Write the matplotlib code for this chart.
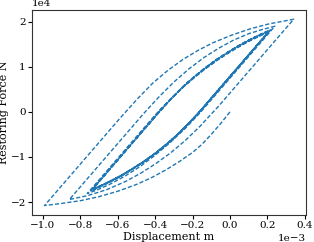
import numpy as np
import matplotlib
matplotlib.use("Agg")
import matplotlib.pyplot as plt

# displacement in 1e-3 m, force in 1e4 N (branch by branch)
# initial branch from the origin
d0_x = [0.0, -0.05, -0.10, -0.15, -0.20, -0.27, -0.34, -0.42, -0.50, -0.60, -0.70, -0.80, -0.90, -0.992]
d0_f = [0.0, -0.26, -0.50, -0.72, -0.90, -1.10, -1.28, -1.46, -1.61, -1.76, -1.88, -1.97, -2.03, -2.078]

a1_x = [-0.992, -0.892, -0.792, -0.692, -0.592, -0.492, -0.412, -0.332, -0.252, -0.172, -0.092, 0.008, 0.108, 0.208, 0.341]
a1_f = [-2.078, -1.598, -1.118, -0.638, -0.158, 0.302, 0.642, 0.922, 1.162, 1.362, 1.532, 1.702, 1.842, 1.952, 2.056]

d1_x = [0.341, 0.241, 0.141, 0.041, -0.059, -0.159, -0.239, -0.319, -0.399, -0.479, -0.559, -0.659, -0.759, -0.859]
d1_f = [2.056, 1.576, 1.096, 0.616, 0.136, -0.314, -0.634, -0.914, -1.154, -1.364, -1.544, -1.724, -1.854, -1.944]

a2_x = [-0.859, -0.759, -0.659, -0.559, -0.459, -0.379, -0.299, -0.219, -0.139, -0.059, 0.021, 0.101, 0.171, 0.24]
a2_f = [-1.944, -1.464, -0.984, -0.504, -0.024, 0.336, 0.666, 0.956, 1.206, 1.416, 1.596, 1.736, 1.826, 1.90]

d2_x = [0.24, 0.14, 0.04, -0.06, -0.16, -0.24, -0.32, -0.40, -0.48, -0.56, -0.64, -0.71, -0.763]
d2_f = [1.90, 1.42, 0.94, 0.46, -0.02, -0.37, -0.68, -0.96, -1.21, -1.42, -1.60, -1.73, -1.811]

a3_x = [-0.763, -0.663, -0.563, -0.463, -0.383, -0.303, -0.223, -0.143, -0.063, 0.017, 0.097, 0.167, 0.203]
a3_f = [-1.811, -1.331, -0.851, -0.371, 0.009, 0.349, 0.649, 0.919, 1.159, 1.369, 1.559, 1.699, 1.767]

# steady loop (descending then ascending)
sd_x = [0.203, 0.103, 0.003, -0.097, -0.157, -0.217, -0.277, -0.337, -0.397, -0.457, -0.517, -0.577, -0.637, -0.697, -0.731]
sd_f = [1.767, 1.287, 0.807, 0.327, 0.037, -0.233, -0.483, -0.703, -0.903, -1.083, -1.243, -1.393, -1.523, -1.643, -1.70]
sa_x = [-0.731, -0.631, -0.531, -0.431, -0.371, -0.311, -0.251, -0.191, -0.131, -0.071, -0.011, 0.049, 0.109, 0.169, 0.203]
sa_f = [-1.70, -1.22, -0.74, -0.26, 0.03, 0.30, 0.55, 0.77, 0.97, 1.15, 1.31, 1.46, 1.59, 1.71, 1.767]

# relative amplitude of each repeated steady cycle
cycle_scale = [1.03, 1.022, 1.015, 1.008, 1.0]

disp = list(d0_x) + a1_x[1:] + d1_x[1:] + a2_x[1:] + d2_x[1:] + a3_x[1:]
force = list(d0_f) + a1_f[1:] + d1_f[1:] + a2_f[1:] + d2_f[1:] + a3_f[1:]
cx = (sd_x[0] + sd_x[-1]) / 2
cf = (sd_f[0] + sd_f[-1]) / 2
for s in cycle_scale:
    for bx, bf in ((sd_x, sd_f), (sa_x, sa_f)):
        disp += [cx + (v - cx) * s for v in bx[1:]]
        force += [cf + (v - cf) * s for v in bf[1:]]

disp = np.array(disp) * 1e-3
force = np.array(force) * 1e4

plt.rcParams['font.family'] = ['DejaVu Serif']
fig = plt.figure(figsize=(3.14, 2.42), dpi=100)
ax = fig.add_axes([0.102, 0.112, 0.873, 0.847])
ax.plot(disp, force, color='#1f77b4', lw=1.0, linestyle=(0, (3.0, 1.5)))
ax.ticklabel_format(axis='both', style='sci', scilimits=(0, 0))
ax.set_xlabel('Displacement m', fontsize=8, labelpad=1)
ax.set_ylabel('Restoring Force N', fontsize=8)
ax.yaxis.set_label_coords(-0.085, 0.5)
ax.tick_params(labelsize=7.5, length=3, width=0.8, pad=1.5)
ax.xaxis.get_offset_text().set_fontsize(7.5)
ax.yaxis.get_offset_text().set_fontsize(7.5)
for s in ax.spines.values():
    s.set_linewidth(0.8)
    s.set_color('#333333')
fig.savefig('out.png', dpi=100)
